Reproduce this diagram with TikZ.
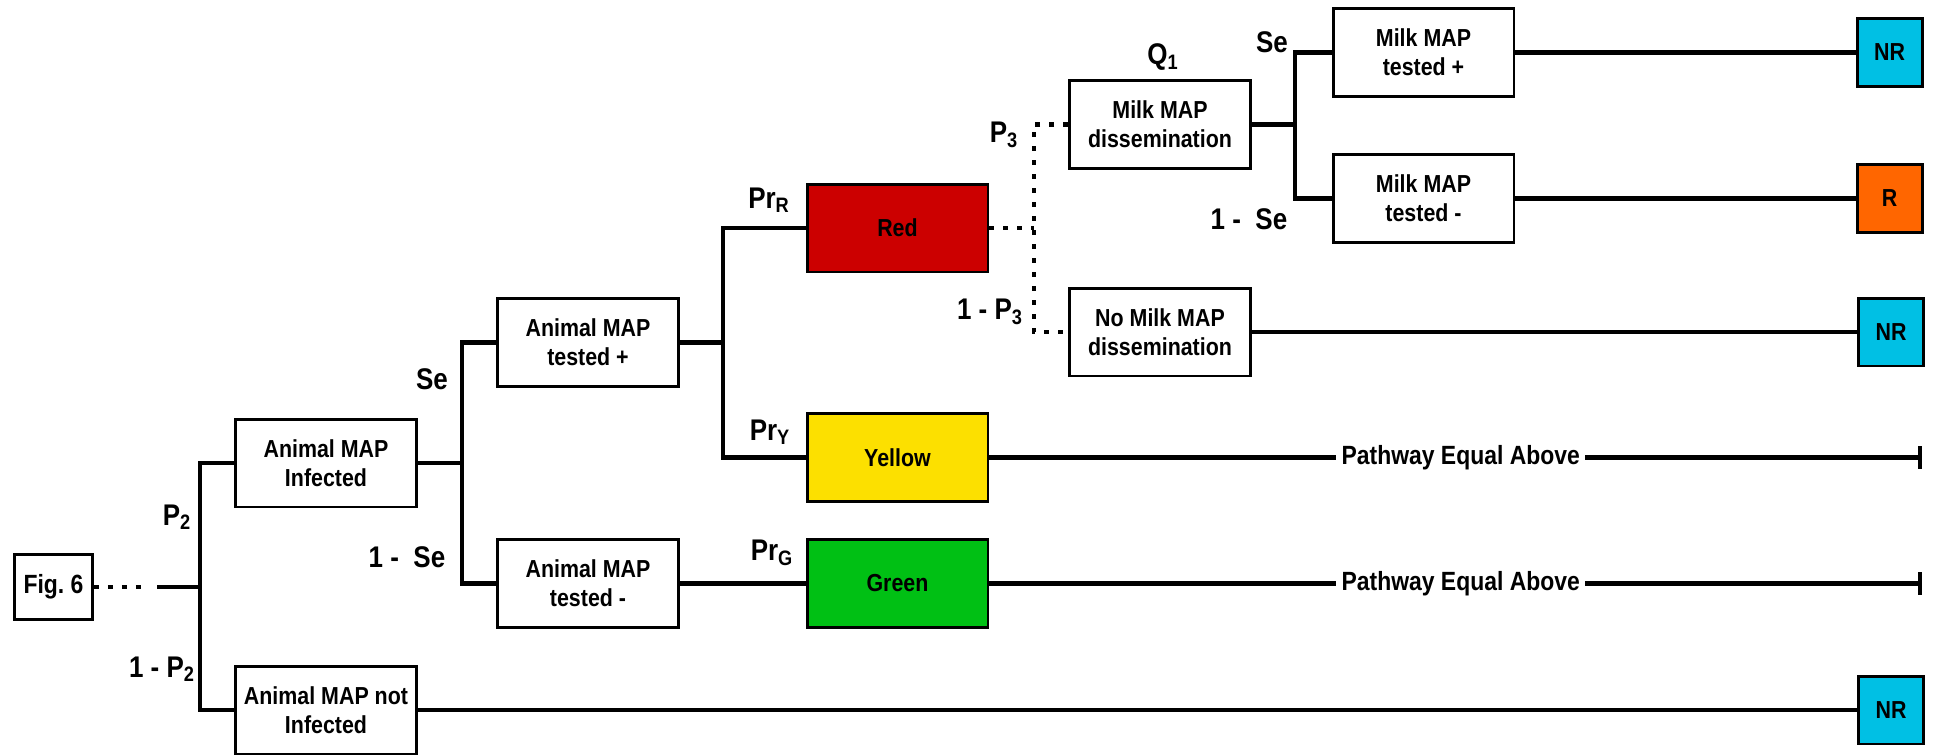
\documentclass[tikz,border=0pt]{standalone}
\usepackage{fontspec}
\setmainfont{Liberation Sans}[FakeStretch=0.87]
\usetikzlibrary{arrows.meta}
\definecolor{redfill}{HTML}{CC0000}
\definecolor{yellowfill}{HTML}{FCE000}
\definecolor{greenfill}{HTML}{00C014}
\definecolor{nrfill}{HTML}{00C0E4}
\definecolor{rfill}{HTML}{FF6600}

\begin{document}
\begin{tikzpicture}[x=0.02cm, y=-0.02cm, every node/.style={font=\fontsize{14}{16.5}\selectfont\bfseries},
	box/.style={draw, line width=1.7pt, minimum width=3.62cm, minimum height=1.76cm, align=center, inner sep=2pt},
	endbox/.style={draw, line width=1.7pt, minimum width=1.3cm, minimum height=1.36cm, inner sep=1pt},
	prob/.style={font=\fontsize{17}{20}\selectfont\bfseries, inner sep=1pt},
	link/.style={line width=2.3pt},
	dotlink/.style={line width=2.3pt, dash pattern=on 0.1cm off 0.18cm}]
	\useasboundingbox (0,0) rectangle (1933,754);
	\node[draw, line width=1.7pt, minimum width=1.56cm, minimum height=1.3cm, font=\fontsize{15}{18}\selectfont\bfseries] (fig) at (53.5,587) {Fig.~6};
	\node[box] (inf) at (326,463) {Animal MAP\\Infected};
	\node[box] (notinf) at (326,710) {Animal MAP not\\Infected};
	\node[box] (tp) at (588,342.5) {Animal MAP\\tested +};
	\node[box] (tm) at (588,583.5) {Animal MAP\\tested -};
	\node[box, fill=redfill] (red) at (897.5,228) {Red};
	\node[box, fill=yellowfill] (yel) at (897.5,457.5) {Yellow};
	\node[box, fill=greenfill] (grn) at (897.5,583.5) {Green};
	\node[box] (diss) at (1160,124.5) {Milk MAP\\dissemination};
	\node[box] (nodiss) at (1160,332) {No Milk MAP\\dissemination};
	\node[box] (mtp) at (1423.5,52.5) {Milk MAP\\tested +};
	\node[box] (mtm) at (1423.5,198.5) {Milk MAP\\tested -};
	\node[endbox, fill=nrfill] (nr1) at (1889.5,52.5) {NR};
	\node[endbox, fill=rfill] (rr) at (1889.5,198.5) {R};
	\node[endbox, fill=nrfill] (nr2) at (1891,332) {NR};
	\node[endbox, fill=nrfill] (nr3) at (1891,710) {NR};

	\coordinate (fd) at (146,587);
	\coordinate (froot) at (157,587);
	\coordinate (b1) at (200,587);
	\coordinate (b2) at (462,463);
	\coordinate (b3) at (723,342.5);
	\coordinate (b4) at (1034,228);
	\coordinate (b5) at (1295,124.5);
	\coordinate (e1) at (1922,457.5);
	\coordinate (e2) at (1922,583.5);

	\draw[dotlink] (fig.east) -- (fd);
	\draw[link] (froot) -- (b1);
	\draw[link] (inf.west) -| (b1) |- (notinf.west);
	\draw[link] (inf.east) -- (b2);
	\draw[link] (tp.west) -| (b2) |- (tm.west);
	\draw[link] (tp.east) -- (b3);
	\draw[link] (red.west) -| (b3) |- (yel.west);
	\draw[link] (tm.east) -- (grn.west);
	\draw[dotlink] (red.east) -- (b4);
	\draw[dotlink] (diss.west) -| (b4) |- (nodiss.west);
	\draw[link] (diss.east) -- (b5);
	\draw[link] (mtp.west) -| (b5) |- (mtm.west);
	\draw[link] (mtp.east) -- (nr1.west);
	\draw[link] (mtm.east) -- (rr.west);
	\draw[link] (nodiss.east) -- (nr2.west);
	\draw[link] (notinf.east) -- (nr3.west);
	\draw[link, -{Bar[width=0.46cm]}] (yel.east) -- node[fill=white, inner sep=3pt, xshift=0.1cm, font=\fontsize{15}{18}\selectfont\bfseries] (pw1) {Pathway Equal Above} (e1);
	\draw[link, -{Bar[width=0.46cm]}] (grn.east) -- node[fill=white, inner sep=3pt, xshift=0.1cm, font=\fontsize{15}{18}\selectfont\bfseries] (pw2) {Pathway Equal Above} (e2);

	\node[prob] (lp2) at (177,517) {P\textsubscript{2}};
	\node[prob] (lq2) at (162,669) {1 - P\textsubscript{2}};
	\node[prob] (lse1) at (432,379) {Se};
	\node[prob] (lnse1) at (407,557) {1 -\ \ Se};
	\node[prob] (lpr) at (769,200) {Pr\textsubscript{R}};
	\node[prob] (lpy) at (770,432) {Pr\textsubscript{Y}};
	\node[prob] (lpg) at (772,553) {Pr\textsubscript{G}};
	\node[prob] (lp3) at (1004,135) {P\textsubscript{3}};
	\node[prob] (lq3) at (990,312) {1 - P\textsubscript{3}};
	\node[prob] (lq1) at (1163,57) {Q\textsubscript{1}};
	\node[prob] (lse2) at (1272,42) {Se};
	\node[prob] (lnse2) at (1249,219) {1 -\ \ Se};
\end{tikzpicture}
\end{document}
